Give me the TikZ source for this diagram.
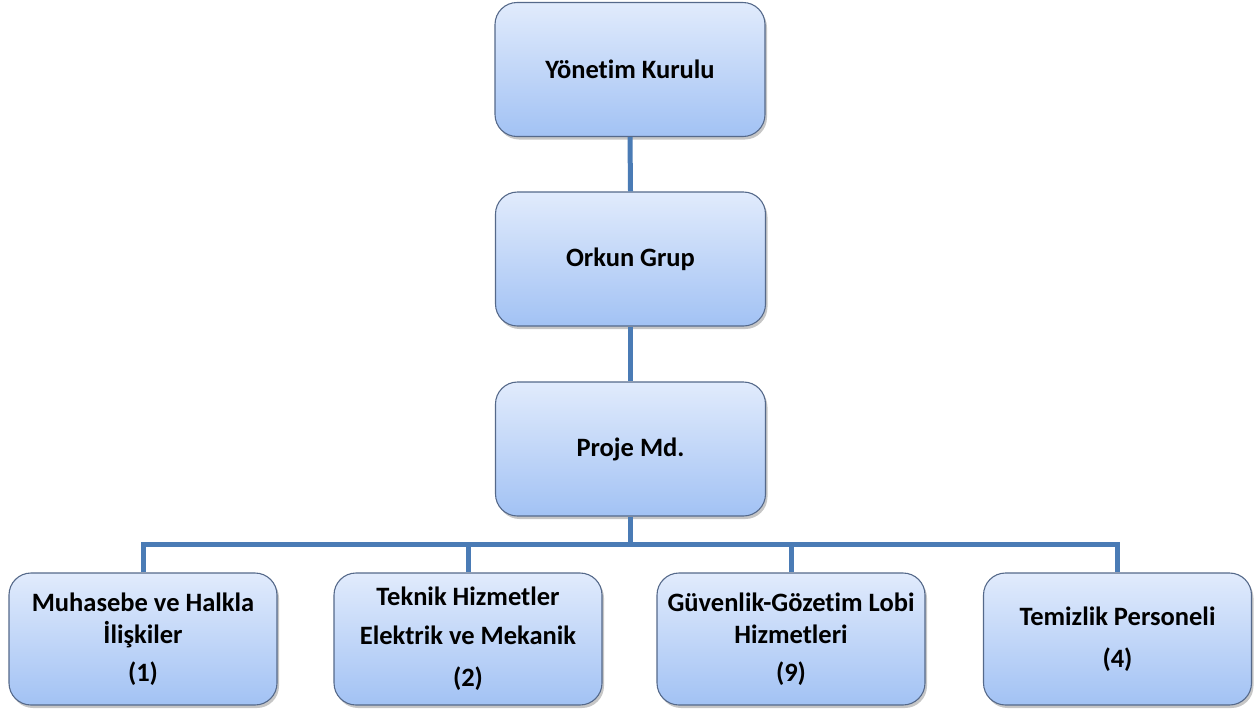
\documentclass[tikz,border=0pt]{standalone}
\usepackage{fontspec}
\setmainfont{Carlito}[Ligatures=NoCommon]
\usetikzlibrary{shadows}
\definecolor{linec}{HTML}{4A7BB5}
\definecolor{topc}{HTML}{E1EBFC}
\definecolor{botc}{HTML}{A2C2F4}
\definecolor{borderc}{HTML}{55698A}
\begin{document}
\begin{tikzpicture}[x=1pt,y=-1pt,
  orgbox/.style={draw=borderc, line width=1.1pt, rounded corners=22pt,
    top color=topc, bottom color=botc,
    drop shadow={opacity=0.45, shadow xshift=2pt, shadow yshift=-3pt},
    align=center, inner sep=0pt,
    font=\bfseries\fontsize{26.5}{32}\selectfont},
  topbox/.style={orgbox, minimum width=270pt, minimum height=134pt},
  lowbox/.style={orgbox, minimum width=268pt, minimum height=132pt},
  conn/.style={draw=linec, line width=5pt, line join=miter}]
\useasboundingbox (0,0) rectangle (1260,713);
\coordinate (busy) at (630,544);
\node[topbox] (yk) at (630,69.5) {Yönetim Kurulu};
\node[topbox] (og) at (630.5,259) {Orkun Grup};
\node[topbox] (pm) at (630.5,449) {Proje Md.};
\node[lowbox] (b1) at (143,639) {Muhasebe ve Halkla\\İlişkiler\\[6pt](1)};
\node[lowbox] (b2) at (468,639) {Teknik Hizmetler\\[7pt]Elektrik ve Mekanik\\[10pt](2)};
\node[lowbox] (b3) at (791,639) {Güvenlik-Gözetim Lobi\\Hizmetleri\\[6pt](9)};
\node[lowbox] (b4) at (1117.5,639) {Temizlik Personeli\\[10pt](4)};
\draw[conn] (yk.south) -- (og.north);
\draw[conn] (og.south) -- (pm.north);
\draw[conn] (pm.south) -- (pm.south |- busy);
\draw[conn] (b1.north) -- (b1.north |- busy) -- (b4.north |- busy) -- (b4.north);
\draw[conn] (b2.north) -- (b2.north |- busy);
\draw[conn] (b3.north) -- (b3.north |- busy);
\end{tikzpicture}
\end{document}
